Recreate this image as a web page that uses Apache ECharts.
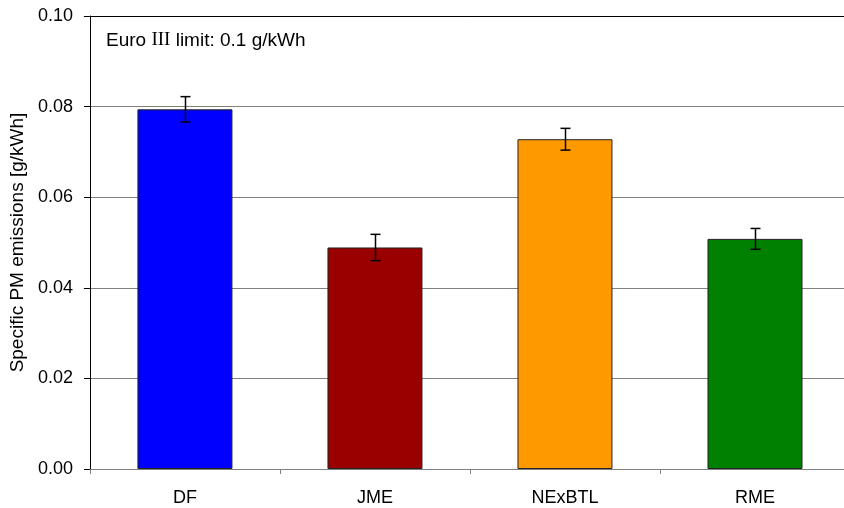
<!DOCTYPE html>
<html><head><meta charset="utf-8">
<script src="https://cdn.jsdelivr.net/npm/echarts@6/dist/echarts.min.js"></script>
<style>html,body{margin:0;padding:0;background:#fff;overflow:hidden;width:844px;height:508px}#c{width:852px;height:508px}</style>
</head><body><div id="c"></div>
<script>
const categories = ['DF', 'JME', 'NExBTL', 'RME'];
const values = [0.0794, 0.0489, 0.0728, 0.0508];
const errors = [0.0028, 0.0029, 0.0024, 0.0023];
const barColors = ['#0000FF', '#990000', '#FF9900', '#008000'];
const yTicks = [0, 0.02, 0.04, 0.06, 0.08, 0.10];

const chart = echarts.init(document.getElementById('c'), null, {renderer: 'canvas'});
const FONT = 'Liberation Sans, Arial, sans-serif';
chart.setOption({
  animation: false,
  backgroundColor: '#fff',
  grid: {left: 87, top: 16, right: 2, height: 453, containLabel: false},
  xAxis: {
    type: 'category', data: categories, boundaryGap: true,
    axisLine: {lineStyle: {color: '#808080', width: 1}},
    axisTick: {show: true, alignWithLabel: false, length: 5, lineStyle: {color: '#808080'}},
    axisLabel: {color: '#000', fontSize: 18, fontFamily: FONT, margin: 20}
  },
  yAxis: {
    type: 'value', min: yTicks[0], max: yTicks[yTicks.length - 1], interval: 0.02,
    name: 'Specific PM emissions [g/kWh]', nameLocation: 'middle', nameGap: 60,
    nameTextStyle: {color: '#000', fontSize: 19, fontFamily: FONT},
    axisLine: {show: true, lineStyle: {color: '#000', width: 1}},
    axisTick: {show: true, length: 6, lineStyle: {color: '#000'}},
    axisLabel: {color: '#000', fontSize: 18, fontFamily: FONT, margin: 17,
      formatter: v => v.toFixed(2)},
    splitLine: {show: true, lineStyle: {color: ['#808080','#808080','#808080','#808080','#808080','#000'], width: 1}}
  },
  series: [{
    type: 'bar',
    data: values.map((v, i) => ({value: v, itemStyle: {color: barColors[i]}})),
    barWidth: '50%',
    itemStyle: {borderColor: '#222', borderWidth: 1}
  }, {
    type: 'custom',
    data: values.map((v, i) => [i, v - errors[i], v + errors[i]]),
    z: 10,
    renderItem: function (params, api) {
      const lo = api.coord([api.value(0), api.value(1)]);
      const hi = api.coord([api.value(0), api.value(2)]);
      const x = Math.round(lo[0]) + 0.5, hw = 5;
      const st = {stroke: '#000', lineWidth: 1.5};
      return {type: 'group', children: [
        {type: 'line', shape: {x1: x, y1: lo[1], x2: x, y2: hi[1]}, style: st},
        {type: 'line', shape: {x1: x - hw, y1: lo[1], x2: x + hw, y2: lo[1]}, style: st},
        {type: 'line', shape: {x1: x - hw, y1: hi[1], x2: x + hw, y2: hi[1]}, style: st}
      ]};
    }
  }],
  graphic: [{
    type: 'text', left: 106, top: 31,
    style: {
      text: 'Euro {s|III} limit: 0.1 g/kWh',
      fill: '#000', font: '19px Liberation Sans, Arial, sans-serif',
      rich: {s: {fontFamily: 'Liberation Serif, Times New Roman, serif', fontSize: 19, fill: '#000'}}
    }
  }]
});
</script></body></html>
